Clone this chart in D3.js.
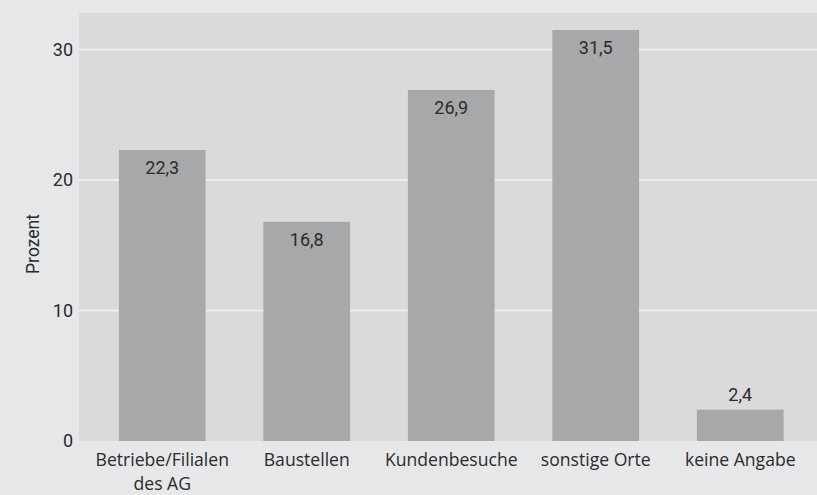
<!DOCTYPE html>
<html>
<head>
<meta charset="utf-8">
<script src="https://cdn.jsdelivr.net/npm/d3@7"></script>
<style>
  body { margin: 0; background: #e6e7e9; }
  svg { display: block; }
  text { fill: #2b2b2b; }
</style>
</head>
<body>
<script>
"use strict"

const categories = [["Betriebe/Filialen", "des AG"], ["Baustellen"], ["Kundenbesuche"], ["sonstige Orte"], ["keine Angabe"]]
const values = [22.3, 16.8, 26.9, 31.5, 2.4]
const yTicks = [0, 10, 20, 30]
const yLabel = "Prozent"

const width = 817
const height = 495
const plot = { left : 79, right : 817, top : 13, bottom : 441 }

const svg = d3.select("body").append("svg")
  .attr("width", width)
  .attr("height", height)

const x = d3.scaleBand()
  .domain(d3.range(values.length))
  .range([90, 812.5])
  .paddingInner(0.4)
  .paddingOuter(0.2)

const y = d3.scaleLinear()
  .domain([0, 32.8])
  .range([plot.bottom, plot.top])

// plot background
svg.append("rect")
  .attr("x", plot.left)
  .attr("y", plot.top)
  .attr("width", plot.right - plot.left)
  .attr("height", plot.bottom - plot.top)
  .attr("fill", "#d9dadc")

// gridlines
svg.append("g")
  .selectAll("line")
  .data(yTicks.filter(t => t > 0))
  .join("line")
  .attr("x1", plot.left)
  .attr("x2", plot.right)
  .attr("y1", d => y(d))
  .attr("y2", d => y(d))
  .attr("stroke", "#f4f5f6")
  .attr("stroke-width", 1.5)

// y axis labels
const yAxis = svg.append("g")
  .attr("transform", `translate(${plot.left - 6} 0)`)
  .call(d3.axisLeft(y).tickValues(yTicks).tickSize(0).tickPadding(0))
yAxis.select(".domain").remove()
yAxis.selectAll("text")
  .attr("font-family", "Roboto, sans-serif")
  .attr("font-size", 18)
  .attr("fill", "#2b2b2b")

svg.append("text")
  .text(yLabel)
  .attr("transform", `translate(39 244) rotate(-90)`)
  .attr("text-anchor", "middle")
  .attr("font-family", "Roboto, sans-serif")
  .attr("font-size", 17.5)

// bars
svg.append("g")
  .selectAll("rect")
  .data(values)
  .join("rect")
  .attr("x", (d, i) => x(i))
  .attr("y", d => y(d))
  .attr("width", x.bandwidth())
  .attr("height", d => y(0) - y(d))
  .attr("fill", "#a7a8aa")

// value labels
const fmt = v => v.toFixed(1).replace(".", ",")
svg.append("g")
  .selectAll("text")
  .data(values)
  .join("text")
  .text(fmt)
  .attr("x", (d, i) => x(i) + x.bandwidth() / 2)
  .attr("y", d => d < 5 ? y(d) - 9 : y(d) + 24)
  .attr("text-anchor", "middle")
  .attr("font-family", "Roboto, sans-serif")
  .attr("font-size", 18)

// category labels
const cat = svg.append("g")
  .selectAll("text")
  .data(categories)
  .join("text")
  .attr("text-anchor", "middle")
  .attr("font-family", "'Open Sans', sans-serif")
  .attr("font-size", 17.6)
  .attr("transform", (d, i) => `translate(${x(i) + x.bandwidth() / 2} 466)`)
cat.selectAll("tspan")
  .data(d => d)
  .join("tspan")
  .attr("x", 0)
  .attr("dy", (d, i) => i === 0 ? 0 : 24)
  .text(d => d)
</script>
</body>
</html>
